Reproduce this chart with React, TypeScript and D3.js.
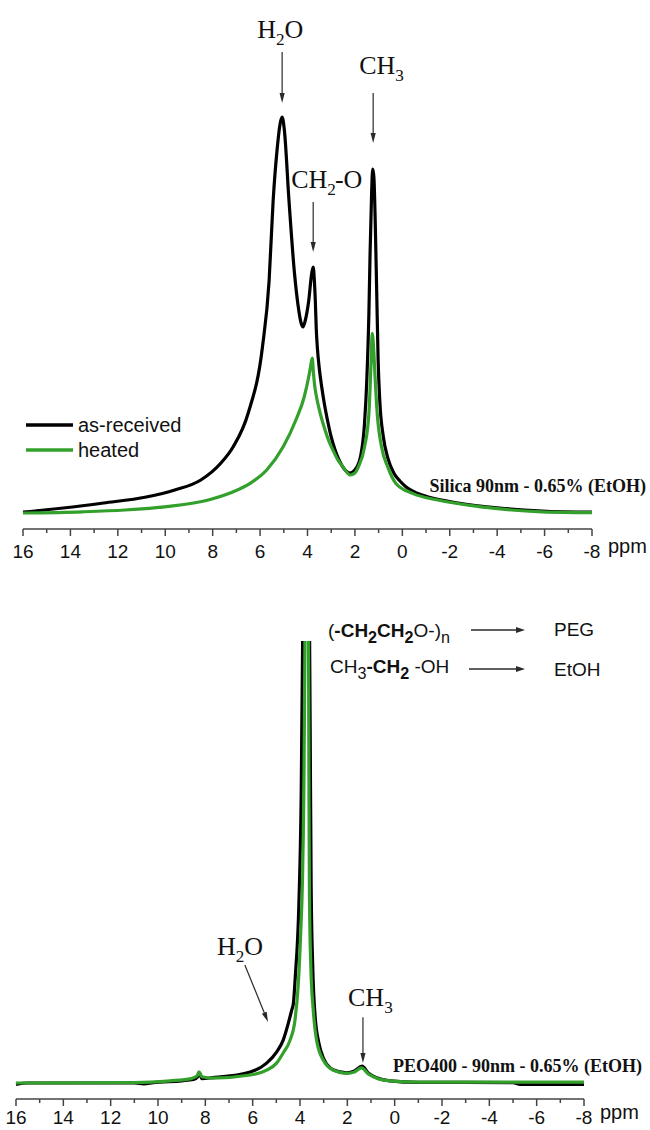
import React from 'react';
import * as d3 from 'd3';

type Pt = [number, number];

// ppm axis ticks
const majorTicks = [16, 14, 12, 10, 8, 6, 4, 2, 0, -2, -4, -6, -8];
const minorTicks = [15, 13, 11, 9, 7, 5, 3, 1, -1, -3, -5, -7];

// Silica 90 nm - 0.65% (EtOH): [ppm, intensity]
const silicaAsReceived: Pt[] = [
  [16, 0.2], [14.3, 1.25], [12.6, 2.5], [10.8, 4], [9.6, 5.75], [8.5, 8.25], [7.65, 12.5],
  [7.14, 16.5], [6.5, 25], [5.9, 41.5], [5.62, 58], [5.45, 78], [5.28, 91], [5.15, 97.5],
  [5.07, 99], [4.98, 96], [4.78, 78], [4.55, 60], [4.4, 52], [4.27, 47.5], [4.19, 46.5],
  [4.1, 48], [3.95, 53], [3.82, 60], [3.76, 61.5], [3.71, 58], [3.67, 53], [3.63, 46],
  [3.58, 41], [3.5, 36], [3.4, 31.5], [3.28, 27], [3.15, 23], [3.0, 19], [2.85, 16],
  [2.65, 13], [2.45, 11], [2.2, 10], [1.95, 11.2],
  [1.75, 14.5], [1.6, 22], [1.5, 33], [1.41, 50], [1.36, 65], [1.3, 79], [1.25, 86],
  [1.2, 84], [1.14, 72], [1.08, 55], [1.02, 38], [0.95, 28], [0.8, 19], [0.6, 13.5],
  [0.36, 10], [0.1, 8], [-0.16, 6.5], [-0.6, 5], [-1.1, 4], [-2.35, 2.5], [-4.1, 1.25],
  [-5.9, 0.5], [-8, 0.2],
];
const silicaHeated: Pt[] = [
  [16, 0], [13.5, 0.3], [11.7, 0.75], [9.94, 1.6], [8.18, 3.25], [7.13, 5.3], [6.42, 7.4],
  [5.72, 10.75], [5.02, 16.6], [4.49, 23.25], [4.14, 29], [3.95, 34], [3.87, 36.6],
  [3.8, 38.7], [3.75, 35], [3.7, 32], [3.62, 29], [3.52, 26.3], [3.4, 23.5], [3.26, 20.75],
  [3.1, 18], [2.91, 15.5], [2.72, 13.3], [2.55, 11.9], [2.38, 10.5], [2.2, 9.5], [2.0, 10],
  [1.85, 11.6], [1.59, 16.6], [1.41, 24.9], [1.32, 37.4],
  [1.27, 44.9], [1.2, 40], [1.15, 34], [1.06, 24.9], [0.88, 16.6], [0.62, 11.6], [0.27, 7.4],
  [-0.43, 4.9], [-1.49, 3.25], [-3.24, 1.6], [-5.89, 0.3], [-8, 0.1],
];

// PEO400 - 90 nm - 0.65% (EtOH): [ppm, intensity]; the PEG line runs off scale
const peoAsReceived: Pt[] = [
  [16, -0.3], [15.5, 0], [11, 0], [10.6, -0.2], [10.2, 0.1], [9, 0.5], [8.5, 0.8], [8.3, 1.5],
  [8.23, 2.2], [8.15, 1.0], [7.7, 1.2], [6.1, 2.5], [5.41, 4.5], [4.99, 7], [4.71, 9.7],
  [4.49, 13.6], [4.35, 16.5], [4.28, 18], [4.2, 24], [4.05, 40], [3.95, 65], [3.88, 105],
  [3.72, 230], [3.6, 105], [3.57, 80], [3.53, 45], [3.46, 26], [3.36, 15], [3.2, 9],
  [3.0, 5.5], [2.6, 3.0], [2.03, 2.3], [1.7, 2.7], [1.38, 3.8], [1.1, 2.2], [0.76, 1.2],
  [0.2, 0.5], [-1, 0.15], [-5, 0.1], [-5.3, -0.3], [-8, -0.3],
];
const peoHeated: Pt[] = [
  [16, 0], [11, 0.1], [9.5, 0.5], [8.6, 1.0], [8.35, 1.6], [8.27, 2.5], [8.15, 1.4],
  [7.7, 1.1], [6.1, 1.8], [5.41, 2.9], [4.99, 4.5], [4.71, 6.8], [4.42, 9.7], [4.21, 14.3],
  [4.07, 22.6], [3.97, 34], [3.9, 45], [3.84, 65], [3.79, 100], [3.71, 240], [3.64, 100],
  [3.62, 65], [3.6, 42], [3.54, 26], [3.44, 16.5], [3.3, 9.7], [3.02, 5.2], [2.59, 2.9],
  [2.03, 2.2], [1.7, 2.5], [1.4, 3.4], [1.1, 2.0], [0.76, 1.1], [0.2, 0.5], [-1, 0.2], [-8, 0.2],
];

const seriesNames = ['as-received', 'heated'];
const seriesColors = ['#000000', '#33a02c'];

const serif = "'Liberation Serif', 'Times New Roman', serif";
const sans = "'Liberation Sans', Arial, Helvetica, sans-serif";
const ink = '#2a2a2a';

type Part = { t: string; sub?: boolean; bold?: boolean; dx?: number };

// Text with chemical subscripts
function Formula({ x, y, parts, size, family, weight = 'normal', subScale = 0.66, subDrop = 0.27 }: {
  x: number; y: number; parts: Part[]; size: number; family: string; weight?: string;
  subScale?: number; subDrop?: number;
}) {
  const drop = size * subDrop;
  let shifted = false;
  return (
    <text x={x} y={y} fontFamily={family} fontSize={size} fill="#111" fontWeight={weight}>
      {parts.map((p, i) => {
        let dy = 0;
        if (p.sub && !shifted) { dy = drop; shifted = true; }
        else if (!p.sub && shifted) { dy = -drop; shifted = false; }
        return (
          <tspan key={i} dy={dy} dx={p.dx ?? 0} fontSize={p.sub ? size * subScale : size}
            fontWeight={p.bold ? 'bold' : weight}>{p.t}</tspan>
        );
      })}
    </text>
  );
}

function Arrow({ x1, y1, x2, y2, head = 10, half = 2.6, width = 1.2 }: {
  x1: number; y1: number; x2: number; y2: number; head?: number; half?: number; width?: number;
}) {
  const a = Math.atan2(y2 - y1, x2 - x1);
  const c = Math.cos(a), s = Math.sin(a);
  const bx = x2 - head * c, by = y2 - head * s;
  const pts = [[x2, y2], [bx - half * s, by + half * c], [bx + half * s, by - half * c]];
  return (
    <g>
      <line x1={x1} y1={y1} x2={bx + 1 * c} y2={by + 1 * s} stroke={ink} strokeWidth={width} />
      <polygon points={pts.map(p => p.join(',')).join(' ')} fill={ink} />
    </g>
  );
}

function PpmAxis({ x, y, labelGap }: { x: d3.ScaleLinear<number, number>; y: number; labelGap: number }) {
  const [x0, x1] = x.range();
  return (
    <g>
      <line x1={x0} x2={x1} y1={y} y2={y} stroke="#444" strokeWidth={1.5} />
      {majorTicks.map(t => (
        <g key={'M' + t}>
          <line x1={x(t)} x2={x(t)} y1={y} y2={y + 7} stroke="#444" strokeWidth={1.5} />
          <text x={x(t)} y={y + labelGap} textAnchor="middle" fontFamily={sans} fontSize={19} fill="#111">
            {String(t)}
          </text>
        </g>
      ))}
      {minorTicks.map(t => (
        <line key={'m' + t} x1={x(t)} x2={x(t)} y1={y} y2={y + 4} stroke="#444" strokeWidth={1.5} />
      ))}
      <text x={x1 + 16} y={y + labelGap - 5} fontFamily={sans} fontSize={20} fill="#111">ppm</text>
    </g>
  );
}

export default function App() {
  // upper panel scales
  const xTop = d3.scaleLinear().domain([16, -8]).range([23, 592]);
  const yTop = d3.scaleLinear().domain([0, 100]).range([513, 113]);
  // lower panel scales
  const xBot = d3.scaleLinear().domain([16, -8]).range([16, 584]);
  const yBot = d3.scaleLinear().domain([0, 100]).range([1083, 641]);

  const lineTop = d3.line<Pt>().x(d => xTop(d[0])).y(d => yTop(d[1])).curve(d3.curveMonotoneX);
  const lineBot = d3.line<Pt>().x(d => xBot(d[0])).y(d => yBot(d[1])).curve(d3.curveMonotoneX);

  const lw = 3.2;

  // upper-panel peak labels: arrow tip at [ppm, intensity]
  const topPeaks = [
    { ppm: 5.07, tip: 102.5, len: 51, lx: -25, gap: 14, parts: [{ t: 'H' }, { t: '2', sub: true }, { t: 'O' }] as Part[] },
    { ppm: 1.23, tip: 92.5, len: 50, lx: -14, gap: 19, parts: [{ t: 'CH' }, { t: '3', sub: true }] as Part[] },
    { ppm: 3.76, tip: 65.25, len: 50, lx: -22, gap: 14, parts: [{ t: 'CH' }, { t: '2', sub: true }, { t: '-O', dx: -1 }] as Part[] },
  ];

  const h2oTip: Pt = [5.35, 13.8];
  const h2oTail: Pt = [6.33, 26.7];
  const ch3Tip: Pt = [1.34, 4.5];
  const ch3Tail: Pt = [1.34, 14.9];

  return (
    <svg width={650} height={1130} style={{ position: 'absolute', left: 0, top: 0, background: '#fff' }}>
      <rect x={0} y={0} width={650} height={1130} fill="#fff" />
      <defs>
        <clipPath id="lowerClip">
          <rect x={0} y={yBot(100)} width={650} height={1100 - yBot(100)} />
        </clipPath>
      </defs>

      {/* upper panel: Silica 90 nm */}
      <path d={lineTop(silicaAsReceived) ?? ''} fill="none" stroke={seriesColors[0]} strokeWidth={lw} strokeLinejoin="round" />
      <path d={lineTop(silicaHeated) ?? ''} fill="none" stroke={seriesColors[1]} strokeWidth={lw} strokeLinejoin="round" />
      <PpmAxis x={xTop} y={529} labelGap={29} />

      {topPeaks.map((p, i) => {
        const ax = xTop(p.ppm);
        const tipY = yTop(p.tip);
        const startY = tipY - p.len;
        return (
          <g key={i}>
            <Arrow x1={ax} y1={startY} x2={ax} y2={tipY} />
            <Formula x={ax + p.lx} y={startY - p.gap} parts={p.parts} size={26} family={serif} />
          </g>
        );
      })}

      {seriesNames.map((n, i) => (
        <g key={n}>
          <line x1={26} x2={73} y1={425 + i * 25} y2={425 + i * 25} stroke={seriesColors[i]} strokeWidth={3.5} />
          <text x={78} y={432 + i * 25} fontFamily={sans} fontSize={20} fill="#111">{n}</text>
        </g>
      ))}

      <text x={646} y={492} textAnchor="end" fontFamily={serif} fontWeight="bold" fontSize={18} fill="#111">
        Silica 90nm - 0.65% (EtOH)
      </text>

      {/* lower panel: PEO400 */}
      <g clipPath="url(#lowerClip)">
        <path d={lineBot(peoAsReceived) ?? ''} fill="none" stroke={seriesColors[0]} strokeWidth={lw} strokeLinejoin="round" />
        <path d={lineBot(peoHeated) ?? ''} fill="none" stroke={seriesColors[1]} strokeWidth={lw} strokeLinejoin="round" />
      </g>
      <PpmAxis x={xBot} y={1099} labelGap={25} />

      <Formula x={328} y={637} size={19} family={sans} subScale={0.85} subDrop={0.3}
        parts={[{ t: '(' }, { t: '-CH', bold: true }, { t: '2', sub: true, bold: true }, { t: 'CH', bold: true },
          { t: '2', sub: true, bold: true }, { t: 'O-)' }, { t: 'n', sub: true }]} />
      <Formula x={330} y={673} size={19} family={sans} subScale={0.85} subDrop={0.3}
        parts={[{ t: 'CH' }, { t: '3', sub: true }, { t: '-CH', bold: true }, { t: '2', sub: true, bold: true },
          { t: ' -OH' }]} />
      <Arrow x1={471} y1={630} x2={525} y2={630} head={9} half={3} width={1.4} />
      <Arrow x1={469} y1={669} x2={525} y2={669} head={9} half={3} width={1.4} />
      <text x={554} y={636} fontFamily={sans} fontSize={19} fill="#111">PEG</text>
      <text x={554} y={676} fontFamily={sans} fontSize={19} fill="#111">EtOH</text>

      <Formula x={217} y={955} parts={[{ t: 'H' }, { t: '2', sub: true }, { t: 'O' }]} size={26} family={serif} />
      <Arrow x1={xBot(h2oTail[0])} y1={yBot(h2oTail[1])} x2={xBot(h2oTip[0])} y2={yBot(h2oTip[1])} />
      <Formula x={348} y={1006} parts={[{ t: 'CH' }, { t: '3', sub: true }]} size={26} family={serif} />
      <Arrow x1={xBot(ch3Tail[0])} y1={yBot(ch3Tail[1])} x2={xBot(ch3Tip[0])} y2={yBot(ch3Tip[1])} />

      <text x={642} y={1072} textAnchor="end" fontFamily={serif} fontWeight="bold" fontSize={18} fill="#111">
        PEO400 - 90nm - 0.65% (EtOH)
      </text>
    </svg>
  );
}
